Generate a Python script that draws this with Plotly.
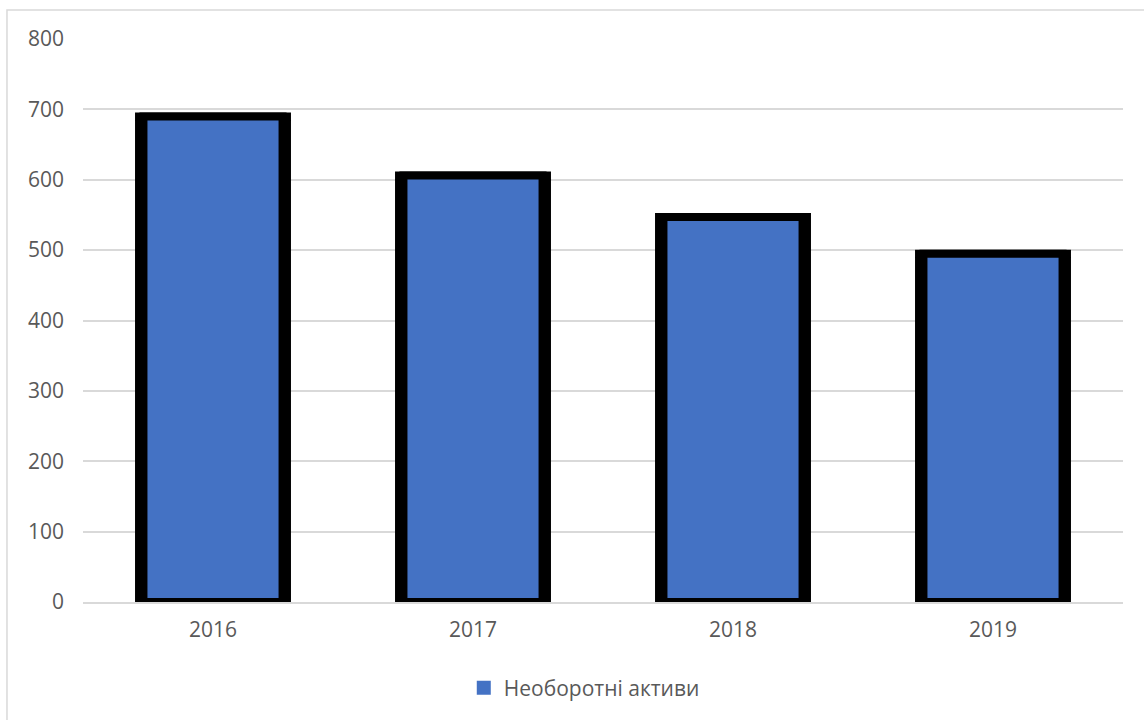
import plotly.graph_objects as go

years = ["2016", "2017", "2018", "2019"]
values = [690, 606, 547, 495]
series_name = "Необоротні активи"
y_ticks = [0, 100, 200, 300, 400, 500, 600, 700, 800]

FILL = "#4472C4"
FONT = "Open Sans, Liberation Sans, sans-serif"
TXT = "#595959"
GRID = "#D9D9D9"

fig = go.Figure()
# outer black frame
fig.add_trace(go.Bar(
    x=years, y=values, width=0.569,
    marker=dict(color="black", line=dict(color="black", width=8)),
    showlegend=False, hoverinfo="skip",
))
# blue fill with black outline on top
fig.add_trace(go.Bar(
    x=years, y=values, width=0.535, name=series_name,
    marker=dict(color=FILL, line=dict(color="black", width=8)),
    showlegend=False,
))
# legend entry
fig.add_trace(go.Scatter(
    x=[None], y=[None], mode="markers", name=series_name,
    marker=dict(symbol="square", size=14, color=FILL),
    showlegend=True,
))

fig.update_layout(
    width=1144, height=720,
    margin=dict(l=83, r=21, t=39, b=117),
    barmode="overlay",
    plot_bgcolor="white", paper_bgcolor="white",
    font=dict(family=FONT, color=TXT, size=21),
    xaxis=dict(
        type="category", showgrid=False, showline=True,
        linecolor=GRID, linewidth=2, ticks="",
        tickfont=dict(size=21, color=TXT), ticklabelstandoff=8,
    ),
    yaxis=dict(
        range=[0, 800], tickvals=y_ticks, showgrid=True,
        gridcolor=GRID, gridwidth=2, zeroline=False, showline=False,
        tickfont=dict(size=21, color=TXT), ticklabelstandoff=18,
    ),
    legend=dict(
        orientation="h", x=0.482, xanchor="center", y=-0.151, yanchor="middle",
        font=dict(size=21, color=TXT), itemwidth=30,
    ),
    shapes=[dict(
        type="rect", xref="paper", yref="paper",
        x0=-0.0731, x1=1.05, y0=-0.3, y1=1.0514,
        line=dict(color=GRID, width=1.5), layer="below",
    )],
)

fig.write_html("out.html")
